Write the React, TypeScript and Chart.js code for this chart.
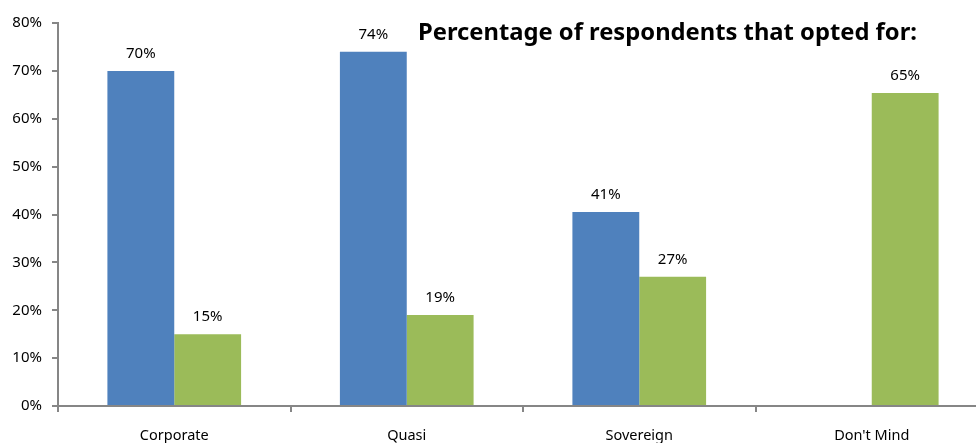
import React, { useEffect, useRef } from "react";
import { Chart, registerables } from "chart.js";

Chart.register(...registerables);

const categories = ["Corporate", "Quasi", "Sovereign", "Don't Mind"];
const blueValues: (number | null)[] = [70, 74, 40.5, null];
const greenValues: (number | null)[] = [15, 19, 27, 65.4];
const blueLabels = ["70%", "74%", "41%", ""];
const greenLabels = ["15%", "19%", "27%", "65%"];
const titleText = "Percentage of respondents that opted for:";

const FONT = "'Noto Sans', sans-serif";
const AXIS = "#868686";

export default function App() {
  const ref = useRef<HTMLCanvasElement | null>(null);

  useEffect(() => {
    if (!ref.current) return;
    const labelPlugin = {
      id: "valueLabels",
      afterDatasetsDraw(chart: any) {
        const ctx = chart.ctx;
        ctx.save();
        ctx.font = `15px ${FONT}`;
        ctx.fillStyle = "#000";
        ctx.textAlign = "center";
        ctx.textBaseline = "alphabetic";
        const sets = [blueLabels, greenLabels];
        chart.data.datasets.forEach((_: any, di: number) => {
          const meta = chart.getDatasetMeta(di);
          meta.data.forEach((bar: any, i: number) => {
            const txt = sets[di][i];
            if (!txt) return;
            ctx.fillText(txt, bar.x, bar.y - 13);
          });
        });
        ctx.font = `bold 22px ${FONT}`;
        ctx.textAlign = "left";
        ctx.textBaseline = "middle";
        const area = chart.chartArea;
        const target = 499;
        const w = ctx.measureText(titleText).width;
        const size = 22 * target / w;
        ctx.font = `bold ${size.toFixed(2)}px ${FONT}`;
        ctx.fillText(titleText, area.left + 360, area.top + 10);
        ctx.restore();
      },
    };

    const chart = new Chart(ref.current, {
      type: "bar",
      data: {
        labels: categories,
        datasets: [
          {
            data: blueValues,
            backgroundColor: "#4F81BD",
            categoryPercentage: 0.575,
            barPercentage: 1,
          },
          {
            data: greenValues,
            backgroundColor: "#9BBB59",
            categoryPercentage: 0.575,
            barPercentage: 1,
          },
        ],
      },
      options: {
        responsive: false,
        animation: false,
        layout: { padding: { top: 23, right: 4, left: 0, bottom: 0 } },
        plugins: {
          legend: { display: false },
          tooltip: { enabled: false },
          title: { display: false },
        },
        scales: {
          x: {
            grid: {
              display: true,
              offset: true,
              drawOnChartArea: false,
              drawTicks: true,
              tickLength: 6,
              color: AXIS,
              lineWidth: 2,
            },
            border: { display: true, color: AXIS, width: 2 },
            ticks: {
              font: { family: FONT, size: 14.5 },
              color: "#000",
              padding: 15,
              maxRotation: 0,
            },
            afterFit(scale: any) {
              scale.height = 46;
            },
          },
          y: {
            min: 0,
            max: 80,
            grid: {
              display: true,
              drawOnChartArea: false,
              drawTicks: true,
              tickLength: 6,
              color: AXIS,
              lineWidth: 2,
            },
            border: { display: true, color: AXIS, width: 2 },
            ticks: {
              stepSize: 10,
              font: { family: FONT, size: 15 },
              color: "#000",
              padding: 10,
              callback: (v: any) => `${v}%`,
            },
            afterFit(scale: any) {
              scale.width = 58;
            },
          },
        },
      },
      plugins: [labelPlugin],
    });
    return () => chart.destroy();
  }, []);

  return (
    <div
      style={{
        position: "fixed",
        left: 0,
        top: 0,
        width: 976,
        height: 443,
        overflow: "hidden",
        background: "#fff",
      }}
    >
      <canvas ref={ref} width={992} height={452} style={{ width: 992, height: 452, display: "block" }} />
    </div>
  );
}
